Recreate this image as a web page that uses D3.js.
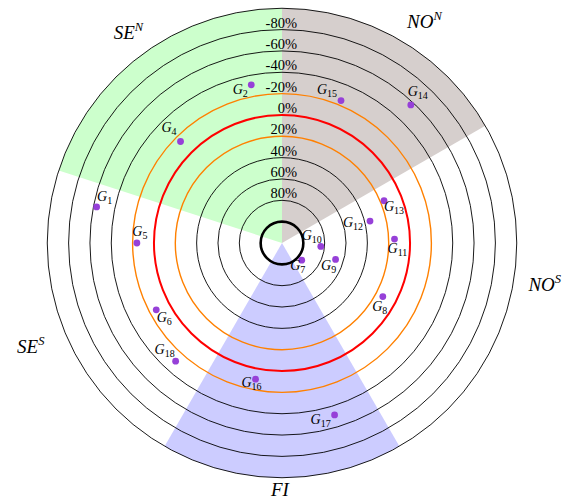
<!DOCTYPE html>
<html>
<head>
<meta charset="utf-8">
<script src="https://cdn.jsdelivr.net/npm/d3@7"></script>
<style>
  html, body { margin: 0; padding: 0; background: #fff; }
  svg { display: block; }
</style>
</head>
<body>
<script>
// Regions (compass degrees, clockwise from north)
const sectorNames  = ["NO", "NO", "FI", "SE", "SE"];
const sectorSups   = ["N", "S", "", "S", "N"];
const sectorStart  = [0, 60, 150, 210, 288];
const sectorEnd    = [60, 150, 210, 288, 360];
const sectorFills  = ["#d6cfcd", null, "#ccccff", null, "#ccffcc"];

// Ring values (percent); 100 is the inner bold ring, -100 the outer edge
const ringValues   = [100, 80, 60, 40, 20, 0, -20, -40, -60, -80, -100];
const ringLabels   = ["80%", "60%", "40%", "20%", "0%", "-20%", "-40%", "-60%", "-80%"];
const ringLabelValues = [80, 60, 40, 20, 0, -20, -40, -60, -80];

// Points: index, bearing (deg), value (%)
const pointIds     = [1, 2, 4, 5, 6, 7, 8, 9, 10, 11, 12, 13, 14, 15, 16, 17, 18];
const pointAngles  = [281, 349, 315, 270, 242, 131, 118, 107, 95, 88, 76, 67.5, 43, 22.5, 191, 163, 222];
const pointValues  = [-57, -31, -14.5, -16, -13.5, 95.5, 13, 67.5, 83.5, 14.5, 35, 16.5, -57, -24.5, -10, -48.5, -29];

const W = 569, H = 502;
const cx = 282, cy = 243;
const step = 21.34;

const svg = d3.select("body").append("svg")
  .attr("width", W).attr("height", H)
  .style("font-family", "'Liberation Serif', 'DejaVu Serif', serif");

svg.append("rect").attr("width", W).attr("height", H).attr("fill", "#fff");

const g = svg.append("g").attr("transform", `translate(${cx},${cy})`);

// value -> radius
const r = d3.scaleLinear().domain([100, -100]).range([step, step * 11]);
const rad = d => d * Math.PI / 180;

// sectors
const arc = d3.arc().innerRadius(0).outerRadius(r(-100));
sectorStart.forEach((s, i) => {
  if (!sectorFills[i]) return;
  g.append("path")
    .attr("d", arc({ startAngle: rad(s), endAngle: rad(sectorEnd[i]) }))
    .attr("fill", sectorFills[i]);
});

// rings
const ringStyle = v => {
  if (v === 100) return { stroke: "#000", w: 2.6 };
  if (v === 0) return { stroke: "#ff0000", w: 2 };
  if (v === 20 || v === -20) return { stroke: "#ff8000", w: 1.4 };
  return { stroke: "#000", w: 0.9 };
};
g.selectAll("circle.ring").data(ringValues).join("circle")
  .attr("class", "ring")
  .attr("r", d => r(d))
  .attr("fill", "none")
  .attr("stroke", d => ringStyle(d).stroke)
  .attr("stroke-width", d => ringStyle(d).w);

// ring labels along the north axis
g.selectAll("text.ringlab").data(ringLabelValues).join("text")
  .attr("class", "ringlab")
  .attr("x", 15)
  .attr("y", d => -r(d) - 2)
  .attr("text-anchor", "end")
  .attr("font-size", 14.5)
  .attr("fill", "#000")
  .text((d, i) => ringLabels[i]);

// points
const px = (a, v) => r(v) * Math.sin(rad(a));
const py = (a, v) => -r(v) * Math.cos(rad(a));

g.selectAll("circle.pt").data(pointIds).join("circle")
  .attr("class", "pt")
  .attr("cx", (d, i) => px(pointAngles[i], pointValues[i]))
  .attr("cy", (d, i) => py(pointAngles[i], pointValues[i]))
  .attr("r", 3.4)
  .attr("fill", "#9640d8");

// label offsets from each point (visual centre of the label)
const labelOffset = {
  1: [8, -9], 2: [-11, 6], 4: [-11.5, -13], 5: [3, -10], 6: [8, 9],
  7: [-4, 7], 8: [-3, 11], 9: [-7, 8], 10: [-9, -9], 11: [3, 11],
  12: [-17, 3], 13: [10, 7], 14: [7, -12], 15: [-14, -10], 16: [-4, 5],
  17: [-14, 6], 18: [-11, -10]
};

pointIds.forEach((id, i) => {
  const [dx, dy] = labelOffset[id];
  const t = g.append("text")
    .attr("x", px(pointAngles[i], pointValues[i]) + dx)
    .attr("y", py(pointAngles[i], pointValues[i]) + dy + 3)
    .attr("text-anchor", "middle")
    .attr("fill", "#000");
  t.append("tspan").attr("font-style", "italic").attr("font-size", 14).text("G");
  t.append("tspan").attr("font-size", 10).attr("dy", 3).text(id);
});

// region labels (bearing, distance from centre)
const regionLabelPos = [[32.8, 263], [99, 266], [180.5, 247], [247.5, 272], [323.8, 260]];
sectorNames.forEach((name, i) => {
  const [a, d] = regionLabelPos[i];
  const t = g.append("text")
    .attr("x", d * Math.sin(rad(a)))
    .attr("y", -d * Math.cos(rad(a)) + 6)
    .attr("text-anchor", "middle")
    .attr("font-style", "italic")
    .attr("font-size", 19)
    .attr("fill", "#000");
  t.append("tspan").text(name);
  if (sectorSups[i]) t.append("tspan").attr("font-size", 12.5).attr("dy", -8).text(sectorSups[i]);
});
</script>
</body>
</html>
